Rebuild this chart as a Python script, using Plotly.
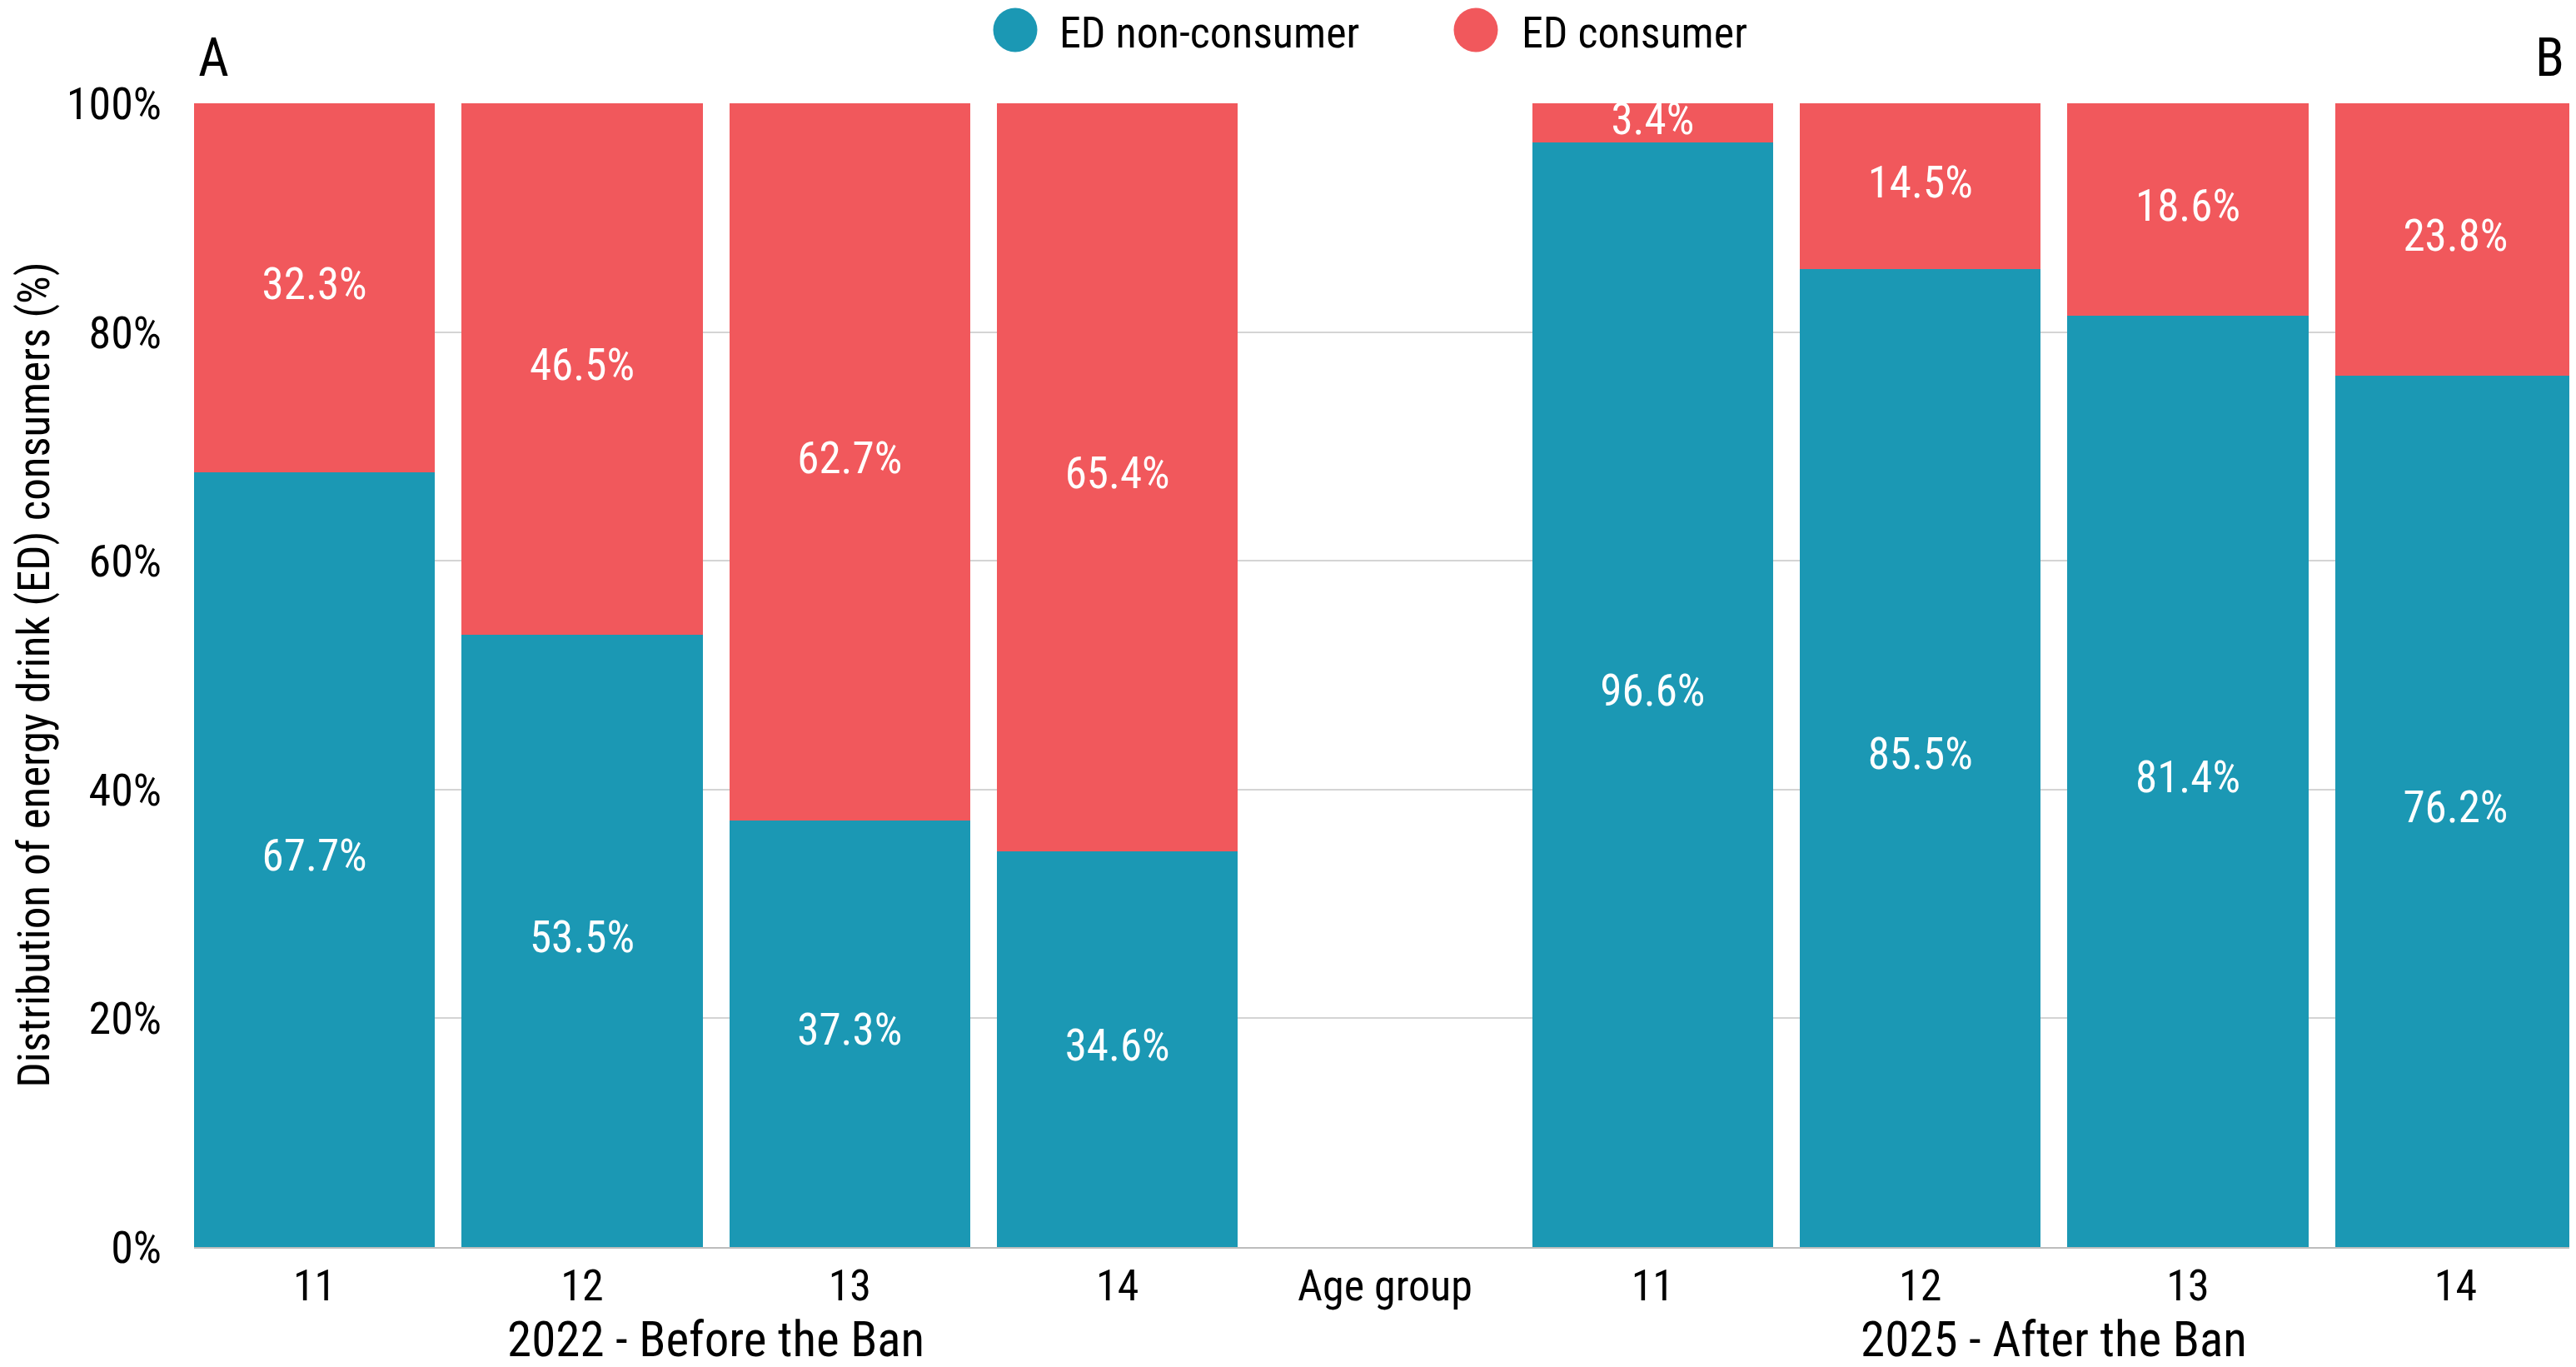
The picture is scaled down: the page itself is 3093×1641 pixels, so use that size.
import plotly.graph_objects as go

# ---- data ----
ages = ["11", "12", "13", "14"]
non_consumer_2022 = [67.7, 53.5, 37.3, 34.6]
consumer_2022 = [32.3, 46.5, 62.7, 65.4]
non_consumer_2025 = [96.6, 85.5, 81.4, 76.2]
consumer_2025 = [3.4, 14.5, 18.6, 23.8]
middle_label = "Age group"
period_labels = ["2022 - Before the Ban", "2025 - After the Ban"]
panel_labels = ["A", "B"]
series_names = ["ED non-consumer", "ED consumer"]
y_ticks = [0, 20, 40, 60, 80, 100]

# ---- style ----
TEAL = "#1B98B4"
RED = "#F1585C"
FONT = "Roboto Condensed, Liberation Sans Narrow, DejaVu Sans Condensed, Roboto, sans-serif"
OFF = 8  # page body margin
W, H = 3093 - OFF, 1641 - OFF
ML, MR, MT, MB = 233 - OFF, 0, 124 - OFF, 144

x_2022 = list(range(len(ages)))
x_mid = len(ages)
x_2025 = [i + len(ages) + 1 for i in range(len(ages))]
xs = x_2022 + x_2025
non = non_consumer_2022 + non_consumer_2025
con = consumer_2022 + consumer_2025

fig = go.Figure()
fig.add_trace(go.Bar(x=xs, y=non, marker=dict(color=TEAL, line=dict(width=0)),
                     name=series_names[0], showlegend=False, hoverinfo="y"))
fig.add_trace(go.Bar(x=xs, y=con, marker=dict(color=RED, line=dict(width=0)),
                     name=series_names[1], showlegend=False, hoverinfo="y"))

# value labels centred in each segment
fig.add_trace(go.Scatter(
    x=xs + xs,
    y=[n / 2 for n in non] + [n + c / 2 for n, c in zip(non, con)],
    text=[f"{v:.1f}%" for v in non + con],
    mode="text", textposition="middle center",
    textfont=dict(family=FONT, size=53, color="white"),
    showlegend=False, hoverinfo="skip"))

plot_w = W - ML - MR
plot_h = H - MT - MB


def px_x(px):
    # px given in reference window pixels
    return (px - OFF - ML) / plot_w


def px_y(py):
    return (H - MB - (py - OFF)) / plot_h


shapes = []
annotations = []
# manual legend
LEG_Y = 39
legend_items = [(1219, 1270, TEAL, series_names[0]), (1772, 1825, RED, series_names[1])]
for cx, tx, col, name in legend_items:
    shapes.append(dict(type="circle", xref="paper", yref="paper",
                       xsizemode="pixel", ysizemode="pixel",
                       xanchor=px_x(cx), yanchor=px_y(LEG_Y - 3),
                       x0=-26.5, x1=26.5, y0=-26.5, y1=26.5,
                       fillcolor=col, line=dict(width=0)))
    annotations.append(dict(text=name, xref="paper", yref="paper",
                            x=px_x(tx), y=px_y(LEG_Y), xanchor="left", yanchor="middle",
                            showarrow=False, font=dict(family=FONT, size=52, color="black")))

# panel labels
annotations.append(dict(text=panel_labels[0], xref="paper", yref="paper",
                        x=px_x(236), y=px_y(69), xanchor="left", yanchor="middle",
                        showarrow=False, font=dict(family=FONT, size=64, color="black")))
annotations.append(dict(text=panel_labels[1], xref="paper", yref="paper",
                        x=px_x(3081), y=px_y(69), xanchor="right", yanchor="middle",
                        showarrow=False, font=dict(family=FONT, size=64, color="black")))

# period labels
for xc, lab in [((x_2022[0] + x_2022[-1]) / 2, period_labels[0]),
                ((x_2025[0] + x_2025[-1]) / 2, period_labels[1])]:
    annotations.append(dict(text=lab, xref="x", yref="paper", x=xc, y=px_y(1607),
                            xanchor="center", yanchor="middle", showarrow=False,
                            font=dict(family=FONT, size=59, color="black")))

# y-axis title
annotations.append(dict(text="Distribution of energy drink (ED) consumers (%)",
                        xref="paper", yref="paper", x=px_x(40), y=0.5,
                        xanchor="center", yanchor="middle", textangle=-90,
                        showarrow=False, font=dict(family=FONT, size=53, color="black")))

fig.update_layout(
    width=W, height=H,
    margin=dict(l=ML, r=MR, t=MT, b=MB, pad=0),
    barmode="stack", bargap=0.1,
    plot_bgcolor="white", paper_bgcolor="white",
    font=dict(family=FONT, size=54, color="black"),
    shapes=shapes, annotations=annotations,
    showlegend=False,
)
fig.update_xaxes(
    range=[-0.45, x_2025[-1] + 0.45],
    tickvals=xs[:4] + [x_mid] + xs[4:],
    ticktext=ages + [middle_label] + ages,
    showgrid=False, zeroline=False,
    showline=True, linecolor="#BDBDBD", linewidth=2,
    ticks="", ticklabelstandoff=0,
    tickfont=dict(family=FONT, size=52, color="black"),
)
fig.update_yaxes(
    range=[0, 100], tickvals=y_ticks, ticktext=[f"{v}%" for v in y_ticks],
    showgrid=True, gridcolor="#D4D4D4", gridwidth=2,
    zeroline=False, showline=False, ticks="", ticklabelstandoff=38,
    tickfont=dict(family=FONT, size=54, color="black"),
)

fig.write_html("out.html")
